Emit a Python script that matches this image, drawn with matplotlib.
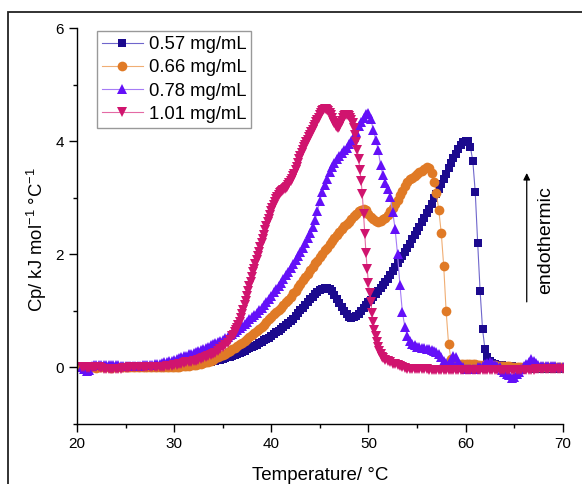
import numpy as np
import matplotlib
matplotlib.use("Agg")
import matplotlib.pyplot as plt
from matplotlib.patches import Rectangle

plt.rcParams['font.family'] = ['Liberation Sans', 'DejaVu Sans']
plt.rcParams['mathtext.fontset'] = 'custom'
plt.rcParams['mathtext.rm'] = 'Liberation Sans'
plt.rcParams['mathtext.it'] = 'Liberation Sans:italic'
plt.rcParams['mathtext.bf'] = 'Liberation Sans:bold'
plt.rcParams['mathtext.default'] = 'regular'

labels = ["0.57 mg/mL", "0.66 mg/mL", "0.78 mg/mL", "1.01 mg/mL"]

# Cp (kJ mol^-1 °C^-1), sampled every 0.25 °C from 20.5 °C to 70 °C
cp_057 = [
    0.00, -0.01, 0.00, 0.01, 0.00, -0.01, 0.00, 0.00,
    0.00, 0.00, -0.01, 0.00, 0.00, 0.00, 0.00, -0.01,
    0.00, 0.00, 0.00, 0.00, 0.00, 0.00, 0.00, 0.00,
    0.00, 0.00, 0.00, 0.00, 0.01, 0.01, 0.01, 0.01,
    0.01, 0.01, 0.02, 0.02, 0.02, 0.02, 0.02, 0.03,
    0.03, 0.04, 0.04, 0.05, 0.05, 0.06, 0.06, 0.07,
    0.07, 0.08, 0.08, 0.09, 0.10, 0.10, 0.11, 0.12,
    0.13, 0.14, 0.15, 0.16, 0.18, 0.19, 0.21, 0.22,
    0.24, 0.26, 0.28, 0.30, 0.32, 0.34, 0.36, 0.38,
    0.40, 0.43, 0.45, 0.48, 0.50, 0.53, 0.56, 0.59,
    0.62, 0.65, 0.68, 0.71, 0.75, 0.78, 0.82, 0.86,
    0.91, 0.96, 1.01, 1.06, 1.11, 1.16, 1.21, 1.25,
    1.30, 1.34, 1.37, 1.39, 1.40, 1.40, 1.39, 1.35,
    1.29, 1.22, 1.14, 1.07, 1.00, 0.94, 0.90, 0.88,
    0.89, 0.91, 0.95, 1.00, 1.05, 1.10, 1.15, 1.20,
    1.25, 1.30, 1.35, 1.40, 1.46, 1.51, 1.57, 1.63,
    1.70, 1.77, 1.84, 1.91, 1.98, 2.05, 2.12, 2.19,
    2.27, 2.34, 2.42, 2.49, 2.57, 2.65, 2.73, 2.81,
    2.90, 2.99, 3.07, 3.16, 3.25, 3.34, 3.43, 3.52,
    3.61, 3.70, 3.78, 3.86, 3.93, 3.98, 4.01, 4.00,
    3.90, 3.65, 3.10, 2.20, 1.35, 0.68, 0.32, 0.18,
    0.12, 0.08, 0.06, 0.05, 0.04, 0.04, 0.03, 0.03,
    0.02, 0.02, 0.01, 0.01, 0.00, 0.00, -0.01, -0.01,
    -0.01, -0.01, -0.02, -0.02, -0.02, -0.02, -0.02, -0.02,
    -0.02, -0.02, -0.02, -0.02, -0.02, -0.02, -0.02,
]

cp_066 = [
    0.00, 0.00, -0.01, 0.00, 0.00, 0.00, -0.01, 0.00,
    0.00, 0.00, 0.00, 0.00, -0.01, 0.00, 0.00, 0.00,
    0.00, 0.00, 0.00, 0.00, 0.00, 0.00, 0.00, 0.00,
    0.00, 0.00, 0.00, 0.00, 0.00, 0.00, 0.00, 0.00,
    0.00, 0.00, 0.00, 0.00, 0.01, 0.01, 0.01, 0.01,
    0.01, 0.02, 0.02, 0.03, 0.03, 0.04, 0.04, 0.05,
    0.06, 0.07, 0.08, 0.09, 0.10, 0.12, 0.14, 0.16,
    0.18, 0.20, 0.22, 0.24, 0.27, 0.29, 0.32, 0.35,
    0.38, 0.41, 0.44, 0.47, 0.50, 0.54, 0.57, 0.61,
    0.64, 0.68, 0.72, 0.76, 0.81, 0.85, 0.90, 0.94,
    0.98, 1.02, 1.06, 1.11, 1.15, 1.20, 1.25, 1.31,
    1.36, 1.42, 1.48, 1.54, 1.60, 1.66, 1.72, 1.78,
    1.84, 1.89, 1.95, 2.01, 2.07, 2.12, 2.18, 2.24,
    2.29, 2.35, 2.40, 2.45, 2.50, 2.54, 2.58, 2.63,
    2.68, 2.72, 2.76, 2.79, 2.80, 2.78, 2.72, 2.67,
    2.62, 2.59, 2.58, 2.59, 2.62, 2.65, 2.70, 2.76,
    2.82, 2.89, 2.97, 3.05, 3.13, 3.21, 3.28, 3.33,
    3.36, 3.39, 3.42, 3.45, 3.48, 3.51, 3.54, 3.52,
    3.44, 3.28, 3.08, 2.78, 2.38, 1.80, 1.00, 0.42,
    0.15, 0.08, 0.06, 0.06, 0.06, 0.06, 0.06, 0.06,
    0.06, 0.06, 0.06, 0.05, 0.05, 0.05, 0.05, 0.05,
    0.05, 0.04, 0.04, 0.03, 0.03, 0.02, 0.02, 0.02,
    0.02, 0.01, 0.01, 0.01, 0.01, 0.01, 0.01, 0.01,
    0.01, 0.01, 0.01, 0.00, 0.00, 0.00, 0.00, 0.00,
    0.00, 0.00, 0.00, 0.00, 0.00, 0.00, 0.00,
]

cp_078 = [
    0.00, -0.03, -0.06, -0.05, 0.02, 0.04, 0.05, 0.05,
    0.05, 0.05, 0.05, 0.05, 0.04, 0.04, 0.04, 0.04,
    0.03, 0.03, 0.03, 0.03, 0.03, 0.03, 0.03, 0.03,
    0.03, 0.04, 0.04, 0.04, 0.05, 0.05, 0.06, 0.07,
    0.07, 0.08, 0.09, 0.10, 0.11, 0.12, 0.13, 0.15,
    0.17, 0.18, 0.20, 0.21, 0.23, 0.24, 0.26, 0.28,
    0.29, 0.31, 0.33, 0.35, 0.37, 0.39, 0.41, 0.43,
    0.45, 0.47, 0.49, 0.52, 0.54, 0.57, 0.60, 0.63,
    0.66, 0.69, 0.73, 0.77, 0.81, 0.85, 0.89, 0.93,
    0.97, 1.01, 1.06, 1.11, 1.16, 1.21, 1.27, 1.33,
    1.38, 1.44, 1.50, 1.56, 1.63, 1.69, 1.76, 1.83,
    1.90, 1.97, 2.04, 2.12, 2.20, 2.29, 2.38, 2.48,
    2.60, 2.76, 2.95, 3.10, 3.22, 3.34, 3.45, 3.54,
    3.62, 3.68, 3.74, 3.79, 3.84, 3.89, 3.95, 4.01,
    4.08, 4.17, 4.27, 4.35, 4.42, 4.49, 4.51, 4.40,
    4.20, 4.03, 3.85, 3.58, 3.40, 3.26, 3.15, 3.02,
    2.75, 2.45, 2.00, 1.45, 0.98, 0.72, 0.56, 0.47,
    0.42, 0.39, 0.37, 0.36, 0.35, 0.34, 0.33, 0.32,
    0.31, 0.30, 0.28, 0.24, 0.18, 0.12, 0.08, 0.07,
    0.13, 0.20, 0.18, 0.10, 0.03, 0.00, -0.02, -0.03,
    -0.03, -0.03, -0.02, 0.00, 0.01, 0.03, 0.06, 0.08,
    0.10, 0.08, 0.05, 0.02, 0.00, -0.04, -0.08, -0.11,
    -0.14, -0.18, -0.16, -0.12, -0.08, -0.03, 0.02, 0.06,
    0.10, 0.15, 0.12, 0.08, 0.05, 0.03, 0.02, 0.02,
    0.03, 0.03, 0.02, 0.02, 0.01, 0.01, 0.01,
]

# 1.01 mg/mL: 0.25 °C steps to 35.75 °C, 0.125 °C steps over the
# transition (36-51.5 °C), then 0.25 °C steps to 70 °C
cp_101 = [
    0.00, 0.00, -0.01, -0.01, 0.00, 0.00, 0.00, 0.00,
    -0.01, -0.02, -0.02, -0.03, -0.03, -0.03, -0.02, -0.02,
    -0.02, -0.01, -0.01, -0.01, 0.00, 0.00, 0.00, 0.00,
    0.00, 0.00, 0.00, 0.00, 0.00, 0.00, 0.00, 0.01,
    0.01, 0.01, 0.01, 0.02, 0.03, 0.03, 0.04, 0.05,
    0.06, 0.07, 0.08, 0.09, 0.09, 0.10, 0.11, 0.12,
    0.13, 0.15, 0.16, 0.18, 0.20, 0.22, 0.24, 0.26,
    0.29, 0.32, 0.36, 0.40, 0.44, 0.49,
    # 36.0 ... 51.5
    0.55, 0.58, 0.62, 0.66, 0.70, 0.75, 0.80, 0.87,
    0.94, 1.02, 1.10, 1.18, 1.27, 1.35, 1.44, 1.52,
    1.60, 1.68, 1.75, 1.83, 1.90, 1.98, 2.05, 2.13,
    2.20, 2.28, 2.35, 2.43, 2.50, 2.57, 2.63, 2.70,
    2.76, 2.82, 2.88, 2.93, 2.98, 3.02, 3.05, 3.08,
    3.10, 3.12, 3.14, 3.16, 3.18, 3.20, 3.23, 3.26,
    3.29, 3.33, 3.38, 3.43, 3.49, 3.55, 3.62, 3.68,
    3.74, 3.80, 3.85, 3.90, 3.94, 3.99, 4.03, 4.07,
    4.11, 4.16, 4.20, 4.25, 4.29, 4.34, 4.38, 4.42,
    4.46, 4.50, 4.53, 4.56, 4.57, 4.57, 4.56, 4.53,
    4.50, 4.46, 4.41, 4.36, 4.32, 4.28, 4.25, 4.24,
    4.26, 4.31, 4.36, 4.41, 4.44, 4.46, 4.46, 4.46,
    4.45,
    4.42, 4.38, 4.32, 4.24, 4.12, 3.98, 3.84, 3.68,
    3.50, 3.30, 3.06, 2.72, 2.36, 2.02, 1.74, 1.50,
    1.32, 1.15, 0.97, 0.81, 0.67, 0.55, 0.45, 0.36,
    0.29, 0.23, 0.19, 0.16,
    # 51.75 ... 70
    0.13, 0.11, 0.09, 0.07, 0.06, 0.04, 0.02, 0.00,
    -0.01, -0.02, -0.02, -0.02, -0.02, -0.03, -0.03, -0.03,
    -0.03, -0.03, -0.04, -0.04, -0.04, -0.04, -0.04, -0.05,
    -0.05, -0.05, -0.05, -0.05, -0.05, -0.05, -0.05, -0.05,
    -0.05, -0.05, -0.05, -0.05, -0.04, -0.04, -0.04, -0.04,
    -0.04, -0.04, -0.04, -0.05, -0.05, -0.05, -0.04, -0.04,
    -0.04, -0.04, -0.04, -0.04, -0.05, -0.05, -0.05, -0.05,
    -0.04, -0.04, -0.04, -0.04, -0.04, -0.04, -0.03, -0.03,
    -0.03, -0.03, -0.03, -0.03, -0.03, -0.03, -0.03, -0.03,
    -0.03, -0.03,
]

t_std = 20.5 + 0.25 * np.arange(len(cp_057))
t_101 = np.concatenate([20.5 + 0.25 * np.arange(62),
                        36.0 + 0.125 * np.arange(125),
                        51.75 + 0.25 * np.arange(74)])

series = [
    (t_std, cp_057, 's', '#1c0a8e', '#6f66cc', 6.0),
    (t_std, cp_066, 'o', '#e07a26', '#f0ae74', 7.0),
    (t_std, cp_078, '^', '#6410f8', '#a57cf5', 7.6),
    (t_101, cp_101, 'v', '#d0146e', '#e46aa4', 7.6),
]

fig = plt.figure(figsize=(5.82, 4.84), dpi=100)
ax = fig.add_axes([0.1323, 0.124, 0.8345, 0.8175])

for (t, cp, mk, c, lc, ms), lab in zip(series, labels):
    ax.plot(t, cp, '-', color=lc, lw=0.8, marker=mk, ms=ms,
            mfc=c, mec=c, mew=0, label=lab)

ax.set_xlim(20, 70)
ax.set_ylim(-1, 6)
ax.set_xticks([20, 30, 40, 50, 60, 70])
ax.set_xticks([25, 35, 45, 55, 65], minor=True)
ax.set_yticks([0, 2, 4, 6])
ax.set_yticks([-1, 1, 3, 5], minor=True)

for side in ('top', 'right'):
    ax.spines[side].set_visible(False)
for side in ('left', 'bottom'):
    ax.spines[side].set_linewidth(1.0)
ax.tick_params(which='major', direction='out', length=5.5, width=1.0,
               labelsize=11, pad=4)
ax.tick_params(which='minor', direction='out', length=3, width=1.0)

ax.set_xlabel('Temperature/ °C', fontsize=13.5)
ax.set_ylabel('Cp/ kJ mol$^{-1}$ °C$^{-1}$', fontsize=13.3)
ax.xaxis.set_label_coords(0.5, -0.108)
ax.yaxis.set_label_coords(-0.057, 0.467)

leg = ax.legend(loc='upper left', bbox_to_anchor=(0.041, 0.992),
                fontsize=13.3, frameon=True, fancybox=False, shadow=False,
                handlelength=2.25, handletextpad=0.3, borderpad=0.25,
                labelspacing=0.34, borderaxespad=0.0)
leg.get_frame().set_edgecolor('#808080')
leg.get_frame().set_linewidth(1.0)

ax.annotate('', xy=(66.3, 3.44), xytext=(66.3, 1.16),
            arrowprops=dict(arrowstyle='-|>', color='black', lw=0.9,
                            mutation_scale=10, shrinkA=0, shrinkB=0))
ax.text(68.2, 2.25, 'endothermic', rotation=90, ha='center', va='center',
        fontsize=14)

# frame around the panel
fig.patches.append(Rectangle((0.0143, -0.05), 1.05, 1.0258,
                             transform=fig.transFigure, fill=False,
                             edgecolor='#222222', lw=1.3))

fig.savefig('out.png', dpi=100)
